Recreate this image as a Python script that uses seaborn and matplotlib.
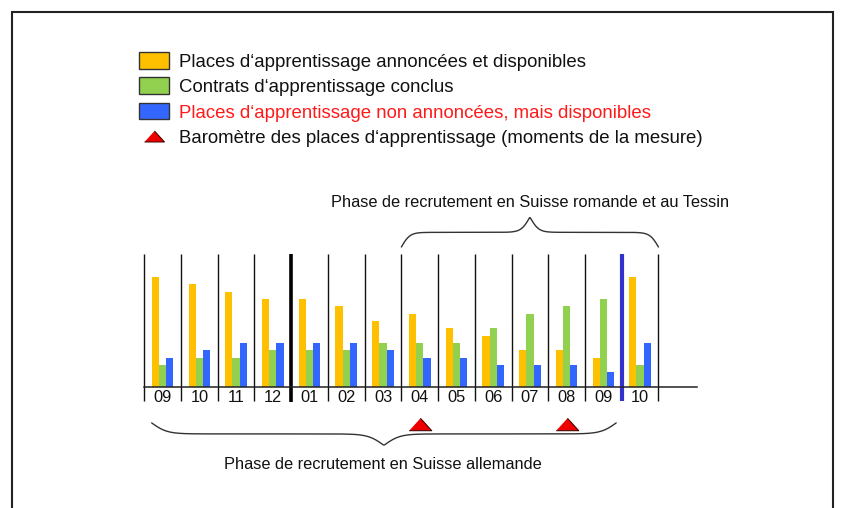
import matplotlib
matplotlib.use("Agg")
import matplotlib.pyplot as plt
import numpy as np
import pandas as pd
import seaborn as sns
from matplotlib.lines import Line2D
from matplotlib.patches import Patch, Rectangle

# mois du cycle (sept. -> oct. de l'année suivante)
mois = ["09", "10", "11", "12", "01", "02", "03", "04", "05", "06", "07", "08", "09", "10"]
places_annoncees = [15, 14, 13, 12, 12, 11, 9, 10, 8, 7, 5, 5, 4, 15]
contrats_conclus = [3, 4, 4, 5, 5, 5, 6, 6, 6, 8, 10, 11, 12, 3]
places_non_annoncees = [4, 5, 6, 6, 6, 6, 5, 4, 4, 3, 3, 3, 2, 6]
barometre_periodes = [7, 11]  # 04 et 08

series = [
    "Places d‘apprentissage annoncées et disponibles",
    "Contrats d‘apprentissage conclus",
    "Places d‘apprentissage non annoncées, mais disponibles",
]
label_barometre = "Baromètre des places d‘apprentissage (moments de la mesure)"
txt_romande = "Phase de recrutement en Suisse romande et au Tessin"
txt_allemande = "Phase de recrutement en Suisse allemande"

palette = {series[0]: "#FFC000", series[1]: "#92D050", series[2]: "#3366FF"}

sns.set_style("white")
plt.rcParams["font.family"] = ["Liberation Sans", "DejaVu Sans"]

df = pd.DataFrame(
    {
        "periode": list(range(len(mois))) * 3,
        "valeur": places_annoncees + contrats_conclus + places_non_annoncees,
        "serie": [s for s in series for _ in mois],
    }
)

W, H = 841, 508
fig = plt.figure(figsize=(W / 100, H / 100), dpi=100)
ax = fig.add_axes([144.3 / W, (H - 387) / H, (697 - 144.3) / W, 133.4 / H])

sns.barplot(
    data=df,
    x="periode",
    y="valeur",
    hue="serie",
    hue_order=series,
    palette=palette,
    width=0.59,
    saturation=1,
    linewidth=0,
    legend=False,
    ax=ax,
)

ax.set_xlim(-0.5, 14.55)
ax.set_ylim(0, 18.2)
ax.set_xlabel("")
ax.set_ylabel("")
ax.set_yticks([])
ax.set_xticks(range(len(mois)), labels=mois, fontsize=11.8)
ax.tick_params(axis="x", length=0, pad=2.2, colors="#111")
for s in ["left", "top", "right"]:
    ax.spines[s].set_visible(False)
ax.spines["bottom"].set_color("#222")
ax.spines["bottom"].set_linewidth(1.1)

# séparateurs des mois
bords = np.arange(len(mois) + 1) - 0.5
normaux = [b for b in bords if b not in (3.5, 12.5)]
ax.vlines(normaux, -1.9, 18.1, color="#111", lw=1.0, clip_on=False)
ax.vlines([3.5], -2.0, 18.1, color="#000", lw=2.6, clip_on=False)
ax.vlines([12.5], -1.9, 18.1, color="#3333CC", lw=3.0, clip_on=False)

# baromètre
tri = [(-1, -0.55), (1, -0.55), (0, 0.55)]
ax.plot(barometre_periodes, [-5.05] * len(barometre_periodes), ls="none",
        marker=tri, markersize=16.3, color="#EE0000", markeredgecolor="#300",
        markeredgewidth=0.7, clip_on=False)


def accolade(ax, x0, x1, y_bout, y_pointe, n=400):
    # accolade horizontale entre x0 et x1
    larg = x1 - x0
    beta = 60.0 / larg
    xs = np.linspace(0, larg / 2, n // 2)
    demi = 1 / (1 + np.exp(-beta * (xs - xs[0]))) + 1 / (1 + np.exp(-beta * (xs - xs[-1])))
    ys = np.concatenate([demi, demi[::-1]])
    xx = np.linspace(x0, x1, len(ys))
    ys = (ys - ys.min()) / (ys.max() - ys.min())
    yy = y_bout + ys * (y_pointe - y_bout)
    ax.plot(xx, yy, color="#333", lw=1.0, clip_on=False)


accolade(ax, 6.5, 13.5, 19.1, 23.1)
accolade(ax, -0.3, 12.35, -4.9, -7.9)

ax.text(10.0, 25.2, txt_romande, ha="center", va="center", fontsize=11.8, color="#111")
ax.text(6.0, -10.6, txt_allemande, ha="center", va="center", fontsize=11.8, color="#111")

# légende
handles = [Patch(facecolor=palette[s], edgecolor="#333", linewidth=1.0) for s in series]
handles.append(Line2D([], [], ls="none", marker=tri, markersize=14.4, color="#EE0000",
                      markeredgecolor="#300", markeredgewidth=0.7))
leg = fig.legend(
    handles, series + [label_barometre],
    loc="upper left", bbox_to_anchor=(139 / W, 1 - 52 / H),
    frameon=False, fontsize=13.4, borderpad=0, borderaxespad=0,
    handlelength=1.6, handleheight=1.0, handletextpad=0.55, labelspacing=0.36,
)
for t in leg.get_texts():
    t.set_color("#111")
leg.get_texts()[2].set_color("#FF1A1A")

# cadre
fig.add_artist(Rectangle((11.7 / W, -0.1), (833 - 11.7) / W, 1.1 - 11.7 / H,
                         transform=fig.transFigure, fill=False, edgecolor="#222", lw=1.5))

fig.savefig("out.png", dpi=100, facecolor="white")
